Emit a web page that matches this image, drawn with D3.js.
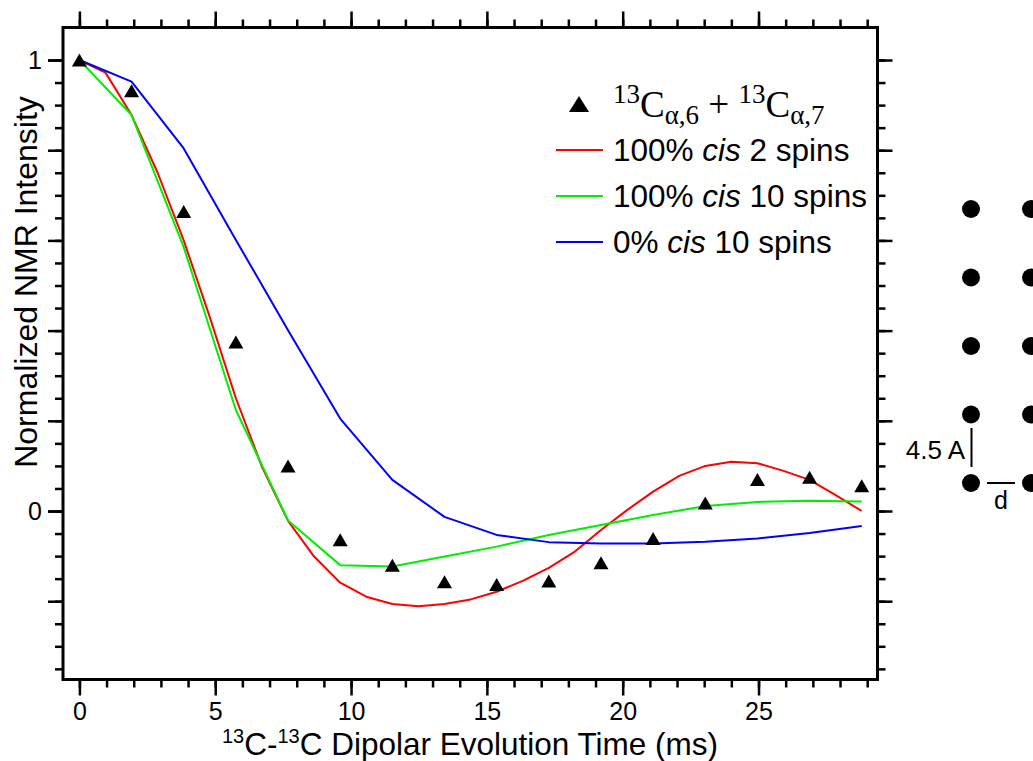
<!DOCTYPE html>
<html>
<head>
<meta charset="utf-8">
<script src="https://cdn.jsdelivr.net/npm/d3@7"></script>
<style>
  html, body { margin: 0; padding: 0; background: #fff; }
  svg { display: block; }
</style>
</head>
<body>
<svg id="chart" width="1033" height="761"></svg>
<script>
// ---------------- data ----------------
// experimental points and 10-spin simulations (1.92 ms grid)
const timesCoarse = [0, 1.92, 3.84, 5.76, 7.68, 9.6, 11.52, 13.44, 15.36, 17.28, 19.2, 21.12, 23.04, 24.96, 26.88, 28.8];
const expValues   = [1.0, 0.932, 0.664, 0.375, 0.100, -0.064, -0.120, -0.157, -0.163, -0.155, -0.115, -0.061, 0.018, 0.070, 0.075, 0.056];
const cis10Values = [1.0, 0.878, 0.585, 0.224, -0.021, -0.120, -0.123, -0.101, -0.079, -0.053, -0.031, -0.009, 0.011, 0.020, 0.023, 0.021];
const trans10Values = [1.0, 0.952, 0.804, 0.601, 0.401, 0.205, 0.069, -0.013, -0.053, -0.069, -0.072, -0.072, -0.068, -0.061, -0.049, -0.033];
// 2-spin simulation (0.96 ms grid)
const timesFine = [0, 0.96, 1.92, 2.88, 3.84, 4.8, 5.76, 6.72, 7.68, 8.64, 9.6, 10.56, 11.52, 12.48, 13.44, 14.4, 15.36, 16.32, 17.28, 18.24, 19.2, 20.16, 21.12, 22.08, 23.04, 24.0, 24.96, 25.92, 26.88, 27.84, 28.8];
const cis2Values = [1.0, 0.972, 0.878, 0.75, 0.60, 0.43, 0.25, 0.098, -0.022, -0.101, -0.159, -0.190, -0.206, -0.211, -0.206, -0.196, -0.179, -0.155, -0.126, -0.090, -0.042, 0.002, 0.043, 0.078, 0.100, 0.109, 0.106, 0.089, 0.069, 0.035, 0.0];

const xMajorTicks = [0, 5, 10, 15, 20, 25];
const xMinorTicks = d3.range(0, 30, 1);
const yLabelTicks = [0, 1];
const yMajorTicks = [-0.2, 0, 0.2, 0.4, 0.6, 0.8, 1.0];
const yMinorTicks = d3.range(-0.35, 1.001, 0.05);

const legendLabels = ["100% cis 2 spins", "100% cis 10 spins", "0% cis 10 spins"];
const seriesColors = ["#ff0000", "#00ee00", "#0000ff"];
const xTitle = "Dipolar Evolution Time (ms)";
const yTitle = "Normalized NMR Intensity";
const rows = [0, 1, 2, 3, 4];
const cols = [0, 1];

// ---------------- layout ----------------
const frame = { left: 63, right: 877.5, top: 27.5, bottom: 679.5 };
const xDomain = [-0.604, 29.38];
const yDomain = [-0.3736, 1.0721];

const svg = d3.select("#chart");
const x = d3.scaleLinear().domain(xDomain).range([frame.left, frame.right]);
const y = d3.scaleLinear().domain(yDomain).range([frame.bottom, frame.top]);

const FONT = "'Liberation Sans', Arial, Helvetica, sans-serif";

function styleAxis(g, sw) {
  g.select(".domain").remove();
  g.selectAll(".tick line").attr("stroke", "#000").attr("stroke-width", sw);
  g.selectAll(".tick text").attr("fill", "#000").attr("font-family", FONT).attr("font-size", 25);
}

// bottom axis
svg.append("g").attr("transform", `translate(0,${frame.bottom})`)
  .call(d3.axisBottom(x).tickValues(xMinorTicks).tickSize(8).tickFormat(""))
  .call(g => styleAxis(g, 2.5));
svg.append("g").attr("transform", `translate(0,${frame.bottom})`)
  .call(d3.axisBottom(x).tickValues(xMajorTicks).tickSize(16).tickPadding(7).tickFormat(d3.format("d")))
  .call(g => styleAxis(g, 2.5));
// top axis
svg.append("g").attr("transform", `translate(0,${frame.top})`)
  .call(d3.axisTop(x).tickValues(xMinorTicks).tickSize(8).tickFormat(""))
  .call(g => styleAxis(g, 2.5));
svg.append("g").attr("transform", `translate(0,${frame.top})`)
  .call(d3.axisTop(x).tickValues(xMajorTicks).tickSize(16).tickFormat(""))
  .call(g => styleAxis(g, 2.5));
// left axis
svg.append("g").attr("transform", `translate(${frame.left},0)`)
  .call(d3.axisLeft(y).tickValues(yMinorTicks).tickSize(8).tickFormat(""))
  .call(g => styleAxis(g, 2.5));
svg.append("g").attr("transform", `translate(${frame.left},0)`)
  .call(d3.axisLeft(y).tickValues(yMajorTicks).tickSize(15).tickFormat(""))
  .call(g => styleAxis(g, 2.5));
svg.append("g").attr("transform", `translate(${frame.left},0)`)
  .call(d3.axisLeft(y).tickValues(yLabelTicks).tickSize(15).tickPadding(6).tickFormat(d3.format("d")))
  .call(g => styleAxis(g, 2.5));
// right axis
svg.append("g").attr("transform", `translate(${frame.right},0)`)
  .call(d3.axisRight(y).tickValues(yMinorTicks).tickSize(8).tickFormat(""))
  .call(g => styleAxis(g, 2.5));
svg.append("g").attr("transform", `translate(${frame.right},0)`)
  .call(d3.axisRight(y).tickValues(yMajorTicks).tickSize(15).tickFormat(""))
  .call(g => styleAxis(g, 2.5));

// frame
svg.append("rect")
  .attr("x", frame.left).attr("y", frame.top)
  .attr("width", frame.right - frame.left).attr("height", frame.bottom - frame.top)
  .attr("fill", "none").attr("stroke", "#000").attr("stroke-width", 3);

// lines
const line = d3.line().x(d => x(d[0])).y(d => y(d[1]));
const seriesData = [
  d3.zip(timesFine, cis2Values),
  d3.zip(timesCoarse, cis10Values),
  d3.zip(timesCoarse, trans10Values)
];
svg.append("g").selectAll("path").data(seriesData).join("path")
  .attr("d", line)
  .attr("fill", "none")
  .attr("stroke", (d, i) => seriesColors[i])
  .attr("stroke-width", 2)
  .attr("stroke-linejoin", "round");

// triangles
function tri(w, h) { return `M0,${-h/2} L${w/2},${h/2} L${-w/2},${h/2} Z`; }
svg.append("g").selectAll("path").data(d3.zip(timesCoarse, expValues)).join("path")
  .attr("d", tri(15, 13))
  .attr("transform", d => `translate(${x(d[0])},${y(d[1])})`)
  .attr("fill", "#000");

// legend
const leg = svg.append("g");
leg.append("path").attr("d", tri(20, 16)).attr("transform", "translate(579,104)").attr("fill", "#000");
const lt = leg.append("text").attr("x", 613).attr("y", 117)
  .attr("font-family", "'Liberation Serif', 'Times New Roman', serif").attr("font-size", 37).attr("fill", "#000");
lt.append("tspan").attr("font-size", 27).attr("dy", -14).text("13");
lt.append("tspan").attr("dy", 14).text("C");
lt.append("tspan").attr("font-size", 27).attr("dy", 7).text("α,6");
lt.append("tspan").attr("dy", -7).text(" + ");
lt.append("tspan").attr("font-size", 27).attr("dy", -14).text("13");
lt.append("tspan").attr("dy", 14).text("C");
lt.append("tspan").attr("font-size", 27).attr("dy", 7).text("α,7");

const legRowsY = [150, 196, 242];
legendLabels.forEach((lab, i) => {
  leg.append("line").attr("x1", 556).attr("x2", 603).attr("y1", legRowsY[i]).attr("y2", legRowsY[i])
    .attr("stroke", seriesColors[i]).attr("stroke-width", 2);
  const parts = lab.split(" cis ");
  const t = leg.append("text").attr("x", 613).attr("y", legRowsY[i]).attr("dy", "0.36em")
    .attr("font-family", FONT).attr("font-size", 31.5).attr("fill", "#000");
  t.append("tspan").text(parts[0] + " ");
  t.append("tspan").attr("font-style", "italic").text("cis");
  t.append("tspan").text(" " + parts[1]);
});

// axis titles
const xt = svg.append("text").attr("x", 470).attr("y", 755).attr("text-anchor", "middle")
  .attr("font-family", FONT).attr("font-size", 31.5).attr("fill", "#000");
xt.append("tspan").attr("font-size", 20).attr("dy", -12).text("13");
xt.append("tspan").attr("dy", 12).text("C-");
xt.append("tspan").attr("font-size", 20).attr("dy", -12).text("13");
xt.append("tspan").attr("dy", 12).text("C " + xTitle);

svg.append("text")
  .attr("transform", "translate(37,282) rotate(-90)")
  .attr("text-anchor", "middle")
  .attr("font-family", FONT).attr("font-size", 32).attr("fill", "#000")
  .text(yTitle);

// lattice schematic on the right
const lat = svg.append("g");
const colX = d3.scaleLinear().domain([0, 1]).range([971, 1031]);
const rowY = d3.scaleLinear().domain([0, 4]).range([209, 483]);
rows.forEach(r => cols.forEach(c => {
  lat.append("circle").attr("cx", colX(c)).attr("cy", rowY(r)).attr("r", 9).attr("fill", "#000");
}));
lat.append("line").attr("x1", 971.5).attr("x2", 971.5).attr("y1", 428).attr("y2", 467)
  .attr("stroke", "#000").attr("stroke-width", 2);
lat.append("line").attr("x1", 987).attr("x2", 1015).attr("y1", 483).attr("y2", 483)
  .attr("stroke", "#000").attr("stroke-width", 2);
lat.append("text").attr("x", 965).attr("y", 450).attr("dy", "0.36em").attr("text-anchor", "end")
  .attr("font-family", FONT).attr("font-size", 26).attr("fill", "#000").text("4.5 A");
lat.append("text").attr("x", 1001).attr("y", 500).attr("dy", "0.36em").attr("text-anchor", "middle")
  .attr("font-family", FONT).attr("font-size", 25).attr("fill", "#000").text("d");
</script>
</body>
</html>
